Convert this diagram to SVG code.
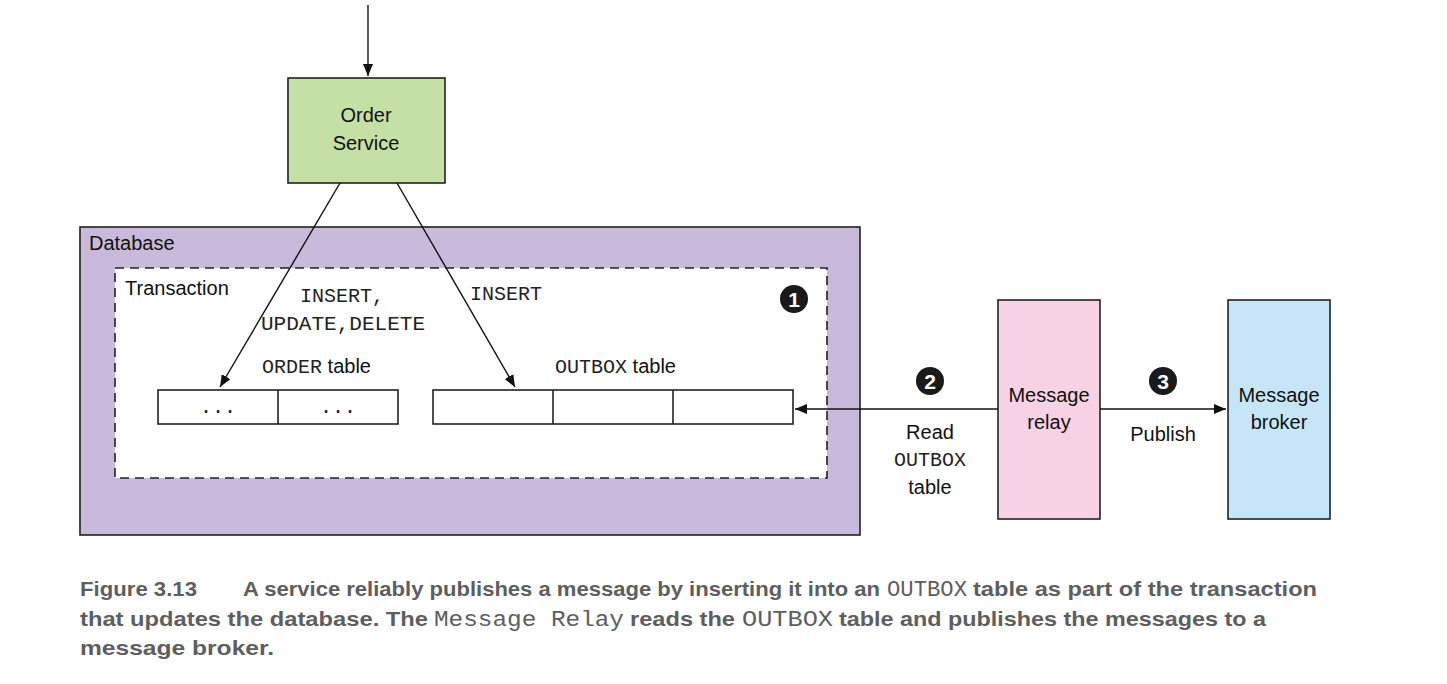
<svg xmlns="http://www.w3.org/2000/svg" width="1447" height="684" viewBox="0 0 1447 684">
<style>
.sans{font-family:"Liberation Sans",Arial,sans-serif;fill:#111;font-size:20px}
.mono{font-family:"Liberation Mono","Courier New",monospace;fill:#222;font-size:20px}
.box{stroke:#222;stroke-width:1.6}
.cap{font-family:"Liberation Sans",Arial,sans-serif;font-weight:bold;fill:#5e5e5e;font-size:21px}
.capm{font-family:"Liberation Mono","Courier New",monospace;fill:#5e5e5e;font-size:22px}
.conn{stroke:#111;stroke-width:1.4;fill:none}
.num{font-family:"Liberation Sans",Arial,sans-serif;font-weight:bold;fill:#fff;font-size:21px}
</style>
<defs>
<marker id="ah" viewBox="0 0 12 10" refX="12" refY="5" markerWidth="12" markerHeight="10" markerUnits="userSpaceOnUse" orient="auto">
<path d="M0,0 L12,5 L0,10 z" fill="#111"/>
</marker>
</defs>
<rect width="1447" height="684" fill="#fff"/>

<g id="database">
<rect x="80" y="227" width="780" height="308" fill="#c9b9da" class="box"/>
<text x="89" y="250" class="sans" font-size="19">Database</text>
</g>
<g id="transaction">
<rect x="115" y="268" width="712" height="210" fill="#fff" stroke="#222" stroke-width="1.6" stroke-dasharray="9,6"/>
<text x="125" y="295" class="sans" font-size="19">Transaction</text>
<circle cx="794" cy="299" r="14" fill="#1a1a1a"/>
<text x="794" y="307" class="num" text-anchor="middle">1</text>
</g>
<g id="order-table">
<text x="262" y="373"><tspan class="mono">ORDER</tspan><tspan class="sans" font-size="19"> table</tspan></text>
<rect x="158" y="390" width="240" height="34" fill="#fff" class="box"/>
<line x1="278" y1="390" x2="278" y2="424" class="box"/>
<text x="218" y="413" class="mono" text-anchor="middle" font-size="16">...</text>
<text x="338" y="413" class="mono" text-anchor="middle" font-size="16">...</text>
</g>
<g id="outbox-table">
<text x="555" y="373"><tspan class="mono">OUTBOX</tspan><tspan class="sans" font-size="19"> table</tspan></text>
<rect x="433" y="390" width="360" height="34" fill="#fff" class="box"/>
<line x1="553" y1="390" x2="553" y2="424" class="box"/>
<line x1="673" y1="390" x2="673" y2="424" class="box"/>
</g>
<g id="order-service">
<rect x="288" y="78" width="157" height="105" fill="#c5e0a5" class="box"/>
<text x="366" y="122" class="sans" text-anchor="middle">Order</text>
<text x="366" y="150" class="sans" text-anchor="middle">Service</text>
</g>
<g id="message-relay">
<rect x="998" y="300" width="102" height="219" fill="#f7d1e4" class="box"/>
<text x="1049" y="402" class="sans" text-anchor="middle">Message</text>
<text x="1049" y="429" class="sans" text-anchor="middle">relay</text>
</g>
<g id="message-broker">
<rect x="1228" y="300" width="102" height="219" fill="#c6e6f8" class="box"/>
<text x="1279" y="402" class="sans" text-anchor="middle">Message</text>
<text x="1279" y="429" class="sans" text-anchor="middle">broker</text>
</g>

<g id="connectors">
<line x1="368" y1="5" x2="368" y2="76" class="conn" marker-end="url(#ah)"/>
<line x1="340" y1="183" x2="220" y2="387" class="conn" marker-end="url(#ah)"/>
<line x1="397" y1="183" x2="515" y2="387" class="conn" marker-end="url(#ah)"/>
<line x1="998" y1="409" x2="795" y2="409" class="conn" marker-end="url(#ah)"/>
<line x1="1100" y1="409" x2="1226" y2="409" class="conn" marker-end="url(#ah)"/>
<text x="300" y="302" class="mono">INSERT,</text>
<text x="261" y="330" class="mono" textLength="164" lengthAdjust="spacingAndGlyphs">UPDATE,DELETE</text>
<text x="470" y="300" class="mono">INSERT</text>
<circle cx="930" cy="381" r="14" fill="#1a1a1a"/>
<text x="930" y="389" class="num" text-anchor="middle">2</text>
<text x="930" y="439" class="sans" text-anchor="middle">Read</text>
<text x="930" y="466" class="mono" text-anchor="middle" font-size="19">OUTBOX</text>
<text x="930" y="494" class="sans" text-anchor="middle">table</text>
<circle cx="1163" cy="381" r="14" fill="#1a1a1a"/>
<text x="1163" y="389" class="num" text-anchor="middle">3</text>
<text x="1163" y="441" class="sans" text-anchor="middle">Publish</text>
</g>

<g id="caption">
<text x="80" y="596" class="cap" textLength="117" lengthAdjust="spacingAndGlyphs">Figure 3.13</text>
<text x="243" y="596" class="cap" textLength="637" lengthAdjust="spacingAndGlyphs">A service reliably publishes a message by inserting it into an</text>
<text x="887" y="596" class="capm" textLength="80" lengthAdjust="spacingAndGlyphs">OUTBOX</text>
<text x="973" y="596" class="cap" textLength="344" lengthAdjust="spacingAndGlyphs">table as part of the transaction</text>
<text x="80" y="626" class="cap" textLength="348" lengthAdjust="spacingAndGlyphs">that updates the database. The</text>
<text x="434" y="626" class="capm" textLength="190" lengthAdjust="spacingAndGlyphs">Message Relay</text>
<text x="630" y="626" class="cap" textLength="105" lengthAdjust="spacingAndGlyphs">reads the</text>
<text x="742" y="626" class="capm" textLength="91" lengthAdjust="spacingAndGlyphs">OUTBOX</text>
<text x="839" y="626" class="cap" textLength="427" lengthAdjust="spacingAndGlyphs">table and publishes the messages to a</text>
<text x="80" y="655" class="cap" textLength="194" lengthAdjust="spacingAndGlyphs">message broker.</text>
</g>
</svg>
